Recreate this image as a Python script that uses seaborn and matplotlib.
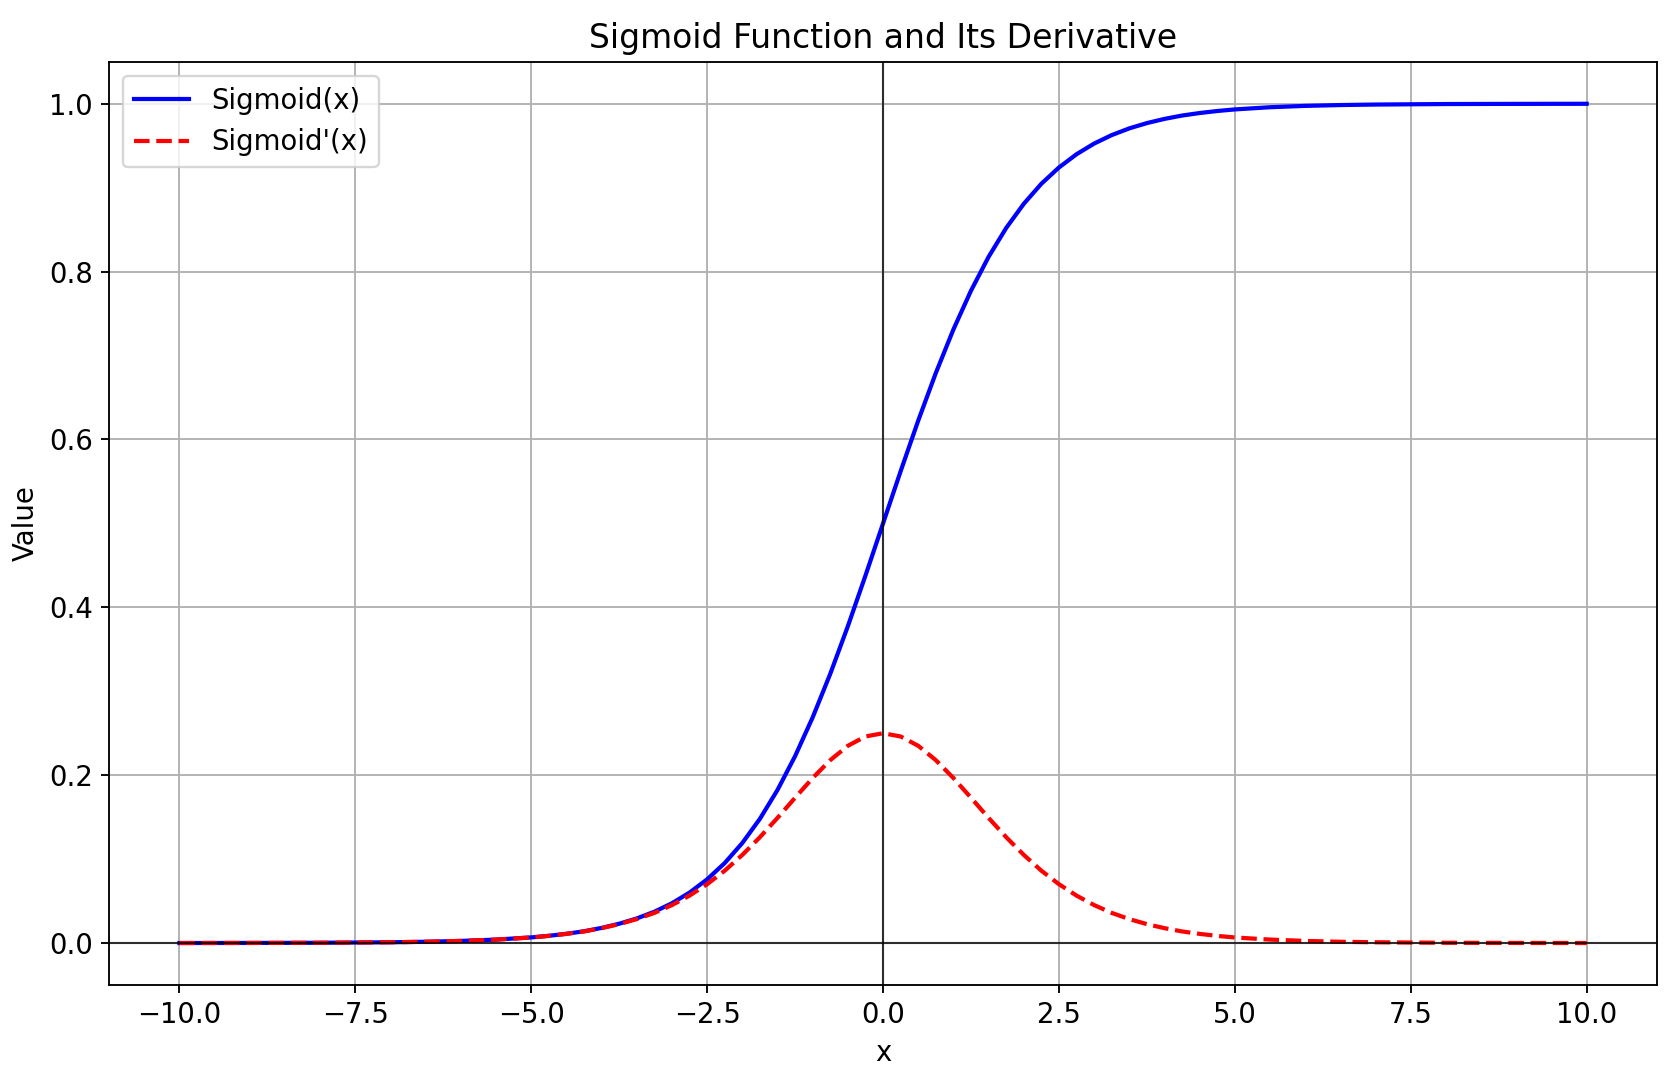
"""
Sigmoid 與其導數曲線
"""
import matplotlib
matplotlib.use("Agg")
import matplotlib.pyplot as plt
import seaborn as sns

plt.rcParams["font.size"] = 11.8

# values (x from -10 to 10)
x_vals = [
    -10.0, -9.0, -8.0, -7.0, -6.5, -6.0, -5.5, -5.0, -4.75, -4.5, -4.25,
    -4.0, -3.75, -3.5, -3.25, -3.0, -2.75, -2.5, -2.25, -2.0, -1.75, -1.5,
    -1.25, -1.0, -0.75, -0.5, -0.25, 0.0, 0.25, 0.5, 0.75, 1.0, 1.25, 1.5,
    1.75, 2.0, 2.25, 2.5, 2.75, 3.0, 3.25, 3.5, 3.75, 4.0, 4.25, 4.5, 4.75,
    5.0, 5.5, 6.0, 6.5, 7.0, 8.0, 9.0, 10.0,
]
sigmoid_vals = [
    0.0000, 0.0001, 0.0003, 0.0009, 0.0015, 0.0025, 0.0041, 0.0067, 0.0086,
    0.0110, 0.0140, 0.0180, 0.0230, 0.0293, 0.0373, 0.0474, 0.0601, 0.0759,
    0.0953, 0.1192, 0.1480, 0.1824, 0.2227, 0.2689, 0.3208, 0.3775, 0.4378,
    0.5000, 0.5622, 0.6225, 0.6792, 0.7311, 0.7773, 0.8176, 0.8520, 0.8808,
    0.9047, 0.9241, 0.9399, 0.9526, 0.9627, 0.9707, 0.9770, 0.9820, 0.9860,
    0.9890, 0.9914, 0.9933, 0.9959, 0.9975, 0.9985, 0.9991, 0.9997, 0.9999,
    1.0000,
]
deriv_vals = [
    0.0000, 0.0001, 0.0003, 0.0009, 0.0015, 0.0025, 0.0041, 0.0066, 0.0085,
    0.0109, 0.0138, 0.0177, 0.0225, 0.0285, 0.0359, 0.0452, 0.0565, 0.0701,
    0.0862, 0.1050, 0.1261, 0.1491, 0.1731, 0.1966, 0.2179, 0.2350, 0.2461,
    0.2500, 0.2461, 0.2350, 0.2179, 0.1966, 0.1731, 0.1491, 0.1261, 0.1050,
    0.0862, 0.0701, 0.0565, 0.0452, 0.0359, 0.0285, 0.0225, 0.0177, 0.0138,
    0.0109, 0.0085, 0.0066, 0.0041, 0.0025, 0.0015, 0.0009, 0.0003, 0.0001,
    0.0000,
]

fig = plt.figure(figsize=(1678 / 168, 1066 / 168), dpi=168)
ax = fig.add_axes([0.065, 0.076, 0.9225, 0.866])

sns.lineplot(x=x_vals, y=sigmoid_vals, color="blue", linewidth=1.8,
             label="Sigmoid(x)", ax=ax)
sns.lineplot(x=x_vals, y=deriv_vals, color="red", linestyle="--",
             linewidth=1.8, label="Sigmoid'(x)", ax=ax)

ax.axhline(0, color="black", linewidth=0.9, alpha=0.75)
ax.axvline(0, color="black", linewidth=0.9, alpha=0.75)
ax.set_title("Sigmoid Function and Its Derivative")
ax.set_xlabel("x")
ax.set_ylabel("Value")
ax.grid(True)
ax.legend(loc="upper left")

fig.savefig("out.png", dpi=168)
